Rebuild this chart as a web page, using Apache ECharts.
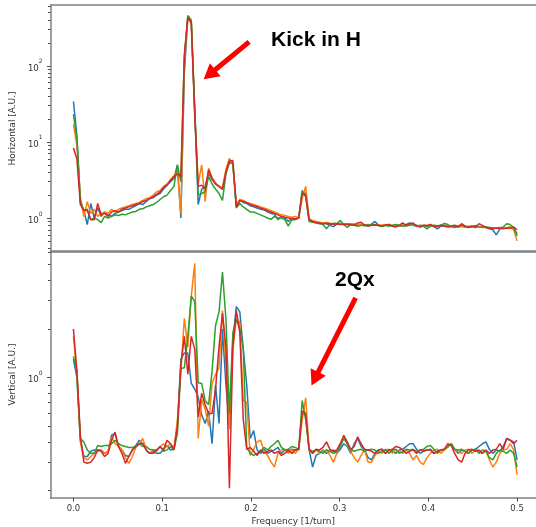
<!DOCTYPE html>
<html>
<head>
<meta charset="utf-8">
<script src="https://cdn.jsdelivr.net/npm/echarts@6/dist/echarts.min.js"></script>
<style>
  html, body { margin: 0; padding: 0; background: #fff; }
  #chart { width: 536px; height: 527px; }
</style>
</head>
<body>
<div id="chart"></div>
<script>
// FFT bins: k / 256 turns, k = 0..128
const N_TURNS = 256;

// Horizontal spectrum, 4 BPMs
const hBlue = [34,12,1.6,1.25,0.82,1.55,1.0,1.35,1.05,1.2,1.1,1.05,1.15,1.2,1.25,1.3,1.3,1.38,1.45,1.55,
  1.5,1.65,1.8,1.85,2.0,2.1,2.4,2.7,3.0,3.3,5.0,1.0,80,420,380,25,1.5,2.4,2.6,3.9,
  3.2,2.8,2.6,2.4,4.0,5.5,5.2,1.4,1.7,1.6,1.55,1.45,1.4,1.35,1.3,1.28,1.2,1.15,1.12,0.95,
  1.05,1.0,0.9,1.0,0.98,1.0,2.2,2.1,0.95,0.9,0.88,0.86,0.85,0.84,0.8,0.77,0.83,0.85,0.82,0.84,
  0.83,0.82,0.81,0.8,0.82,0.8,0.83,0.9,0.8,0.77,0.8,0.82,0.78,0.8,0.79,0.8,0.82,0.86,0.8,0.78,
  0.8,0.79,0.78,0.8,0.77,0.72,0.78,0.8,0.78,0.77,0.78,0.76,0.78,0.76,0.77,0.78,0.75,0.77,0.76,0.75,
  0.72,0.7,0.6,0.72,0.74,0.73,0.76,0.74,0.62];
const hOrange = [17,9,1.9,1.04,1.64,1.15,1.3,1.05,1.15,1.2,1.15,1.3,1.2,1.3,1.35,1.4,1.45,1.5,1.55,1.6,
  1.7,1.8,1.85,2.0,2.2,2.3,2.6,2.8,3.2,3.6,4.2,1.15,110,430,360,22,2.8,5.0,1.65,4.5,
  3.4,2.9,2.6,2.5,4.4,6.1,5.0,1.5,1.75,1.7,1.6,1.55,1.5,1.45,1.4,1.35,1.3,1.25,1.2,1.15,
  1.1,1.08,1.05,1.02,1.05,1.0,1.8,2.6,0.98,0.92,0.9,0.88,0.86,0.87,0.85,0.84,0.85,0.83,0.84,0.82,
  0.82,0.84,0.82,0.83,0.8,0.81,0.8,0.8,0.81,0.8,0.82,0.8,0.79,0.8,0.78,0.8,0.79,0.8,0.82,0.8,
  0.78,0.8,0.8,0.79,0.78,0.78,0.8,0.78,0.77,0.78,0.8,0.78,0.77,0.76,0.78,0.76,0.77,0.76,0.78,0.76,
  0.74,0.73,0.74,0.75,0.73,0.74,0.77,0.7,0.5];
const hGreen = [23,11,1.7,1.25,1.3,0.95,1.0,0.95,0.87,1.05,1.0,1.05,1.1,1.08,1.12,1.1,1.15,1.2,1.22,1.3,
  1.32,1.4,1.45,1.5,1.6,1.75,1.9,2.0,2.3,2.6,5.0,3.0,130,460,400,28,2.0,2.1,2.2,3.5,
  2.8,2.4,2.1,1.7,3.8,5.3,5.2,1.35,1.55,1.4,1.3,1.2,1.2,1.15,1.1,1.05,1.0,0.96,1.05,1.0,
  1.0,0.95,0.78,0.95,0.95,1.0,2.3,1.9,0.9,0.88,0.86,0.84,0.82,0.72,0.82,0.85,0.84,0.93,0.82,0.75,
  0.83,0.8,0.78,0.8,0.79,0.82,0.8,0.82,0.79,0.78,0.8,0.78,0.8,0.82,0.8,0.78,0.79,0.8,0.83,0.8,
  0.76,0.78,0.72,0.78,0.8,0.79,0.8,0.85,0.82,0.77,0.75,0.78,0.8,0.78,0.76,0.77,0.8,0.77,0.75,0.76,
  0.75,0.74,0.73,0.74,0.76,0.84,0.82,0.75,0.58];
const hRed = [8.3,6,1.5,1.27,1.25,0.95,0.95,1.55,1.1,1.15,1.05,1.2,1.25,1.2,1.3,1.35,1.4,1.45,1.5,1.55,
  1.65,1.7,1.8,1.9,2.05,2.2,2.5,2.7,3.1,3.5,3.8,3.5,140,440,370,24,2.6,2.7,2.4,4.3,
  3.3,2.8,2.6,2.4,4.0,5.6,5.7,1.4,1.7,1.65,1.6,1.5,1.45,1.42,1.35,1.3,1.25,1.2,1.15,1.1,
  1.05,1.02,1.0,0.98,0.97,1.0,2.1,2.0,0.95,0.9,0.87,0.86,0.84,0.85,0.84,0.83,0.84,0.82,0.83,0.82,
  0.81,0.8,0.86,0.88,0.8,0.78,0.8,0.81,0.8,0.79,0.8,0.82,0.78,0.76,0.8,0.86,0.8,0.84,0.86,0.78,
  0.77,0.8,0.79,0.82,0.78,0.77,0.8,0.78,0.76,0.78,0.8,0.77,0.84,0.78,0.75,0.78,0.76,0.84,0.8,0.75,
  0.74,0.72,0.74,0.73,0.72,0.74,0.73,0.76,0.7];

// Vertical spectrum, 4 BPMs
const vBlue = [1.3,1.0,0.41,0.325,0.325,0.35,0.357,0.357,0.357,0.34,0.35,0.44,0.45,0.375,0.357,0.33,0.325,0.357,0.38,0.41,
  0.39,0.357,0.34,0.35,0.34,0.34,0.36,0.38,0.357,0.36,0.5,1.3,1.42,1.42,0.92,0.85,0.76,0.59,0.52,0.62,
  0.39,0.9,0.52,2.0,0.9,0.5,1.7,2.75,2.55,1.5,0.9,0.42,0.47,0.357,0.34,0.36,0.34,0.35,0.357,0.37,
  0.34,0.357,0.35,0.36,0.357,0.36,0.6,0.58,0.357,0.28,0.33,0.34,0.357,0.34,0.35,0.357,0.34,0.36,0.39,0.375,
  0.34,0.39,0.42,0.375,0.357,0.32,0.31,0.34,0.357,0.36,0.34,0.357,0.35,0.34,0.357,0.36,0.375,0.39,0.39,0.36,
  0.34,0.35,0.357,0.36,0.34,0.35,0.357,0.36,0.375,0.39,0.36,0.34,0.357,0.35,0.34,0.357,0.36,0.375,0.39,0.4,
  0.36,0.34,0.357,0.35,0.375,0.42,0.41,0.4,0.31];
const vOrange = [1.8,1.05,0.4,0.32,0.31,0.325,0.34,0.35,0.357,0.34,0.35,0.43,0.39,0.38,0.357,0.32,0.295,0.325,0.37,0.39,
  0.42,0.357,0.34,0.357,0.35,0.375,0.39,0.375,0.39,0.36,0.55,1.1,2.33,1.55,3.2,5.1,0.42,0.73,0.64,0.5,
  0.92,1.05,1.15,2.6,1.2,0.48,1.5,2.3,2.2,0.72,0.7,0.33,0.36,0.4,0.41,0.35,0.33,0.3,0.28,0.34,
  0.357,0.36,0.34,0.357,0.34,0.36,0.55,0.75,0.357,0.34,0.357,0.34,0.35,0.357,0.33,0.3,0.34,0.39,0.43,0.39,
  0.35,0.32,0.3,0.33,0.357,0.3,0.3,0.33,0.35,0.34,0.357,0.36,0.34,0.357,0.35,0.34,0.357,0.34,0.31,0.33,
  0.3,0.29,0.32,0.34,0.357,0.36,0.34,0.357,0.37,0.39,0.357,0.35,0.34,0.357,0.36,0.34,0.357,0.35,0.34,0.357,
  0.31,0.28,0.3,0.34,0.357,0.36,0.39,0.357,0.25];
const vGreen = [1.35,1.1,0.42,0.4,0.357,0.34,0.34,0.38,0.375,0.38,0.38,0.39,0.41,0.39,0.38,0.375,0.37,0.37,0.375,0.39,
  0.375,0.375,0.36,0.357,0.357,0.375,0.35,0.357,0.375,0.357,0.45,1.14,1.15,1.8,3.2,2.95,0.93,0.92,0.72,0.68,
  1.1,2.1,2.55,4.5,2.3,0.6,1.9,2.3,2.0,1.5,0.37,0.34,0.33,0.34,0.35,0.37,0.357,0.375,0.39,0.41,
  0.37,0.357,0.36,0.375,0.37,0.36,0.72,0.55,0.36,0.35,0.357,0.35,0.34,0.357,0.35,0.34,0.35,0.375,0.42,0.39,
  0.357,0.35,0.357,0.36,0.35,0.357,0.36,0.357,0.34,0.35,0.36,0.34,0.357,0.36,0.34,0.35,0.36,0.357,0.36,0.35,
  0.357,0.36,0.375,0.38,0.36,0.34,0.357,0.36,0.375,0.39,0.36,0.357,0.36,0.35,0.34,0.357,0.36,0.34,0.357,0.35,
  0.32,0.31,0.34,0.357,0.35,0.34,0.357,0.34,0.28];
const vRed = [2.0,1.1,0.44,0.3,0.295,0.3,0.32,0.357,0.35,0.325,0.34,0.41,0.46,0.375,0.34,0.295,0.325,0.357,0.375,0.39,
  0.39,0.357,0.34,0.34,0.357,0.375,0.357,0.41,0.39,0.36,0.5,1.2,1.8,1.05,1.8,1.5,0.57,0.8,0.68,0.6,
  0.6,0.85,1.55,2.5,1.55,0.207,1.55,2.6,1.9,0.55,0.36,0.37,0.35,0.33,0.357,0.34,0.35,0.357,0.34,0.35,
  0.33,0.34,0.357,0.34,0.357,0.36,0.62,0.6,0.36,0.34,0.36,0.357,0.37,0.4,0.36,0.35,0.357,0.39,0.44,0.4,
  0.36,0.375,0.43,0.39,0.36,0.357,0.35,0.34,0.357,0.36,0.34,0.357,0.36,0.375,0.37,0.357,0.34,0.35,0.357,0.34,
  0.357,0.35,0.357,0.357,0.34,0.35,0.357,0.36,0.39,0.38,0.34,0.31,0.3,0.34,0.357,0.36,0.35,0.357,0.34,0.357,
  0.34,0.357,0.36,0.39,0.36,0.42,0.41,0.39,0.41];

// Axis ticks
const xTicks = [0, 0.1, 0.2, 0.3, 0.4, 0.5];
const topMajorTicks = [1, 10, 100];
const topMinorTicks = [0.4, 0.5, 0.6, 0.7, 0.8, 0.9, 2, 3, 4, 5, 6, 7, 8, 9,
  20, 30, 40, 50, 60, 70, 80, 90, 200, 300, 400, 500, 600];
const bottomMajorTicks = [1];
const bottomMinorTicks = [0.2, 0.3, 0.4, 0.5, 0.6, 0.7, 0.8, 0.9, 2, 3, 4, 5, 6];

const colors = ['#1f77b4', '#ff7f0e', '#2ca02c', '#d62728'];
const freqs = hBlue.map((_, k) => k / N_TURNS);
const pairs = (vals) => vals.map((v, i) => [freqs[i], v]);

// the right spine sits just past the picture edge, so the x range stops at the canvas edge
const X_MIN = -0.0258;
const X_MAX = 0.5213;

const chart = echarts.init(document.getElementById('chart'), null, { renderer: 'canvas' });

const tickFont = 'DejaVu Sans';
const spine = { color: '#808080', width: 1.5 };

function yLabel(v) {
  const e = Math.round(Math.log10(v));
  return '{b|10}{s|' + e + '}';
}
const yRich = {
  b: { fontSize: 8.5, fontFamily: tickFont, color: '#333', padding: [5, 0, 0, 0] },
  s: { fontSize: 6, fontFamily: tickFont, color: '#333', verticalAlign: 'top' }
};

function mainY(grid, min, max, major, name) {
  return {
    type: 'log', gridIndex: grid, min: min, max: max, position: 'left',
    name: name, nameLocation: 'middle', nameGap: 27,
    nameTextStyle: { fontSize: 9, fontFamily: tickFont, color: '#333' },
    axisLine: { show: true, onZero: false, lineStyle: spine },
    splitLine: { show: false },
    axisTick: { show: true, length: 3.5, customValues: major, lineStyle: { color: '#444', width: 1 } },
    axisLabel: { margin: 8, customValues: major, formatter: yLabel, rich: yRich }
  };
}
function minorY(grid, min, max, minor) {
  return {
    type: 'log', gridIndex: grid, min: min, max: max, position: 'left',
    axisLine: { show: false, onZero: false }, splitLine: { show: false },
    axisTick: { show: true, length: 2.5, customValues: minor, lineStyle: { color: '#444', width: 1 } },
    axisLabel: { show: false }
  };
}
function spineX(grid, pos) {
  return {
    type: 'value', gridIndex: grid, min: X_MIN, max: X_MAX, position: pos,
    axisLine: { show: true, onZero: false, lineStyle: spine },
    axisTick: { show: false }, axisLabel: { show: false }, splitLine: { show: false }
  };
}

function lineSeries(name, vals, idx, grid) {
  return {
    name: name, type: 'line', xAxisIndex: grid, yAxisIndex: grid,
    data: pairs(vals), showSymbol: false, symbol: 'none',
    lineStyle: { color: colors[idx], width: 1.5 },
    itemStyle: { color: colors[idx] },
    emphasis: { disabled: true }, silent: true
  };
}

const arrowStyle = {
  silent: true, animation: false,
  symbol: ['none', 'triangle'], symbolSize: [17, 15],
  label: { show: false },
  lineStyle: { color: '#ff0000', width: 5, type: 'solid' },
  itemStyle: { color: '#ff0000' },
  emphasis: { disabled: true }
};

const redTop = lineSeries('red', hRed, 3, 0);
redTop.markLine = Object.assign({}, arrowStyle, {
  data: [[{ coord: [0.198, 207] }, { coord: [0.1533, 77] }]]
});
const redBottom = lineSeries('red', vRed, 3, 1);
redBottom.markLine = Object.assign({}, arrowStyle, {
  data: [[{ coord: [0.318, 3.11] }, { coord: [0.2721, 0.984] }]]
});

const option = {
  backgroundColor: '#fff',
  animation: false,
  grid: [
    { left: 49, right: 0, top: 5, height: 247 },
    { left: 49, right: 0, top: 251, height: 247 }
  ],
  xAxis: [
    spineX(0, 'bottom'),
    {
      type: 'value', gridIndex: 1, min: X_MIN, max: X_MAX, position: 'bottom',
      name: 'Frequency [1/turn]', nameLocation: 'middle', nameGap: 19,
      nameTextStyle: { fontSize: 9, fontFamily: tickFont, color: '#333' },
      axisLine: { show: true, onZero: false, lineStyle: spine },
      axisTick: { show: true, length: 3.5, customValues: xTicks, lineStyle: { color: '#444' } },
      axisLabel: {
        margin: 6, customValues: xTicks, fontSize: 8.5, fontFamily: tickFont, color: '#333',
        formatter: (v) => v.toFixed(1)
      },
      splitLine: { show: false }
    },
    spineX(0, 'top'),
    spineX(1, 'top')
  ],
  yAxis: [
    mainY(0, 0.357, 631, topMajorTicks, 'Horizontal [A.U.]'),
    mainY(1, 0.18, 6.07, bottomMajorTicks, 'Vertical [A.U.]'),
    minorY(0, 0.357, 631, topMinorTicks),
    minorY(1, 0.18, 6.07, bottomMinorTicks)
  ],
  series: [
    lineSeries('blue', hBlue, 0, 0),
    lineSeries('orange', hOrange, 1, 0),
    lineSeries('green', hGreen, 2, 0),
    redTop,
    lineSeries('blue', vBlue, 0, 1),
    lineSeries('orange', vOrange, 1, 1),
    lineSeries('green', vGreen, 2, 1),
    redBottom
  ],
  graphic: [
    {
      type: 'text', x: 271, y: 40.5, silent: true,
      style: { text: 'Kick in H', fill: '#000', font: 'bold 21px "Liberation Sans", Arial, sans-serif', align: 'left', verticalAlign: 'middle' }
    },
    {
      type: 'text', x: 335, y: 280.5, silent: true,
      style: { text: '2Qx', fill: '#000', font: 'bold 21px "Liberation Sans", Arial, sans-serif', align: 'left', verticalAlign: 'middle' }
    }
  ]
};

chart.setOption(option);
</script>
</body>
</html>
